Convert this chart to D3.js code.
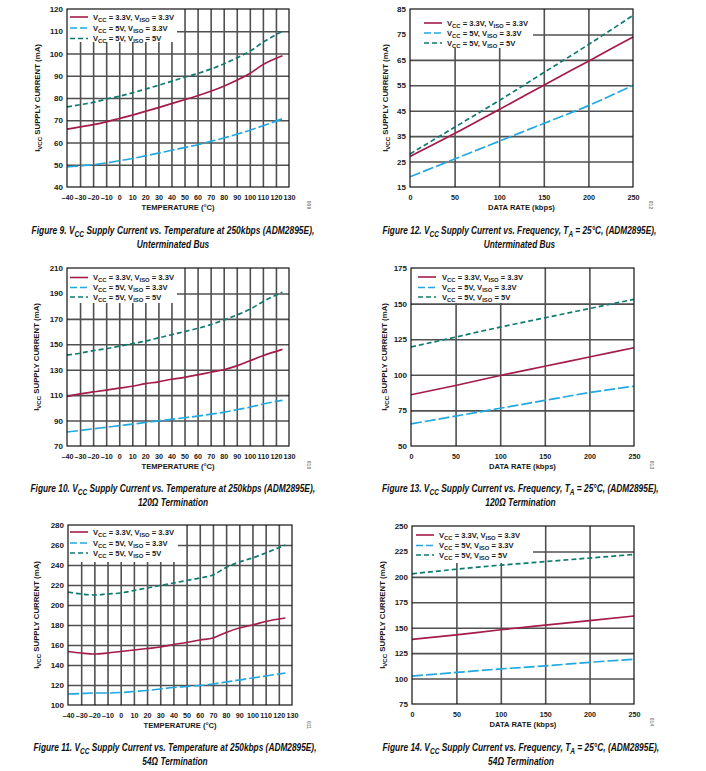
<!DOCTYPE html>
<html>
<head>
<meta charset="utf-8">
<script src="https://cdn.jsdelivr.net/npm/d3@7"></script>
<style>
  body { margin: 0; background: #fff; }
  text { font-family: "Liberation Sans", Arial, sans-serif; font-weight: bold; fill: #1a1a1a; }
</style>
</head>
<body>
<svg id="chart" width="706" height="771"></svg>
<script>
// x values
const tempX = [-40, -30, -20, -10, 0, 10, 20, 30, 40, 50, 60, 70, 80, 90, 100, 110, 125];
const rateX = [0, 50, 100, 150, 200, 250];
const tempTicks = [-40, -30, -20, -10, 0, 10, 20, 30, 40, 50, 60, 70, 80, 90, 100, 110, 120, 130];
const rateTicks = [0, 50, 100, 150, 200, 250];

// Figure 9 - temperature, unterminated
const fig9Vcc33Iso33 = [66, 67, 68, 69.3, 70.8, 72.3, 74, 75.7, 77.5, 79.2, 81, 83, 85.3, 88, 91, 95, 99];
const fig9Vcc5Iso33 = [49, 49.5, 50, 50.8, 51.8, 52.8, 54, 55.2, 56.5, 57.7, 59, 60.5, 62, 63.7, 65.5, 67.5, 70.7];
const fig9Vcc5Iso5 = [76, 77, 78, 79.5, 80.8, 82.3, 84, 85.7, 87.5, 89.3, 91, 93, 95.3, 98, 101, 105, 110];
const fig9YTicks = [40, 50, 60, 70, 80, 90, 100, 110, 120];

// Figure 12 - data rate, unterminated
const fig12Vcc33Iso33 = [27, 36, 45.5, 55, 64.5, 74];
const fig12Vcc5Iso33 = [19, 26, 33, 40, 47, 55];
const fig12Vcc5Iso5 = [28, 38.5, 49, 60, 71, 82.5];
const fig12YTicks = [15, 25, 35, 45, 55, 65, 75, 85];

// Figure 10 - temperature, 120 ohm
const fig10Vcc33Iso33 = [109, 111, 112.5, 114, 115.5, 117, 119, 120.5, 122.5, 124, 126, 128, 130, 133, 137, 141, 146];
const fig10Vcc5Iso33 = [81, 82.2, 83.5, 84.7, 86, 87.2, 88.5, 89.7, 91, 92.2, 93.5, 95, 96.5, 98.5, 100.5, 103, 106];
const fig10Vcc5Iso5 = [141.5, 143, 145, 146.5, 148.5, 150.5, 152.5, 155, 157.5, 160, 162.5, 165.5, 169, 173, 177.5, 183.5, 191];
const fig10YTicks = [70, 90, 110, 130, 150, 170, 190, 210];

// Figure 13 - data rate, 120 ohm
const fig13Vcc33Iso33 = [86, 92.5, 99.5, 106, 112.5, 119];
const fig13Vcc5Iso33 = [65.5, 71, 76.5, 82, 87.5, 92];
const fig13Vcc5Iso5 = [119.5, 126.5, 133.5, 140, 146.5, 153];
const fig13YTicks = [50, 75, 100, 125, 150, 175];

// Figure 11 - temperature, 54 ohm
const fig11Vcc33Iso33 = [153.5, 152, 151, 152, 153.5, 155, 156.5, 158, 160.5, 162.5, 165, 167, 172.5, 177, 180, 183.5, 187];
const fig11Vcc5Iso33 = [111, 111.5, 112, 112, 112.5, 113.5, 114.5, 116, 117.5, 118.5, 119.5, 121, 123, 125, 127, 129, 132];
const fig11Vcc5Iso5 = [213, 211, 210, 211, 212, 214.5, 217, 219.5, 222, 224.5, 227, 230, 237.5, 243, 247, 252, 260];
const fig11YTicks = [100, 120, 140, 160, 180, 200, 220, 240, 260, 280];

// Figure 14 - data rate, 54 ohm
const fig14Vcc33Iso33 = [138.5, 143, 148, 152.5, 157, 161.5];
const fig14Vcc5Iso33 = [102.5, 106, 109.5, 112.5, 116, 119];
const fig14Vcc5Iso5 = [203, 207.5, 211.5, 215, 218.5, 222];
const fig14YTicks = [75, 100, 125, 150, 175, 200, 225, 250];

const legendLabels = [
    [['V', 0], ['CC', 1], [' = 3.3V, V', 0], ['ISO', 1], [' = 3.3V', 0]],
    [['V', 0], ['CC', 1], [' = 5V, V', 0], ['ISO', 1], [' = 3.3V', 0]],
    [['V', 0], ['CC', 1], [' = 5V, V', 0], ['ISO', 1], [' = 5V', 0]]
];
const seriesStyle = [
    { color: '#a51b4b', dash: null, legendDash: null },
    { color: '#22a8e0', dash: '11,3', legendDash: '7,3' },
    { color: '#0f7b6f', dash: '5,3', legendDash: '5,3' }
];

const tempCaption = (n) => [['Figure ' + n + '. V', 0], ['CC', 1], [' Supply Current vs. Temperature at 250kbps (ADM2895E),', 0]];
const rateCaption = (n) => [['Figure ' + n + '. V', 0], ['CC', 1], [' Supply Current vs. Frequency, T', 0], ['A', 1], [' = 25°C, (ADM2895E),', 0]];

const panels = [
    { num: 9, id: '009', box: [67, 289, 9, 187], xDomain: [-40, 130], xVals: tempX, xTicks: tempTicks, yTicks: fig9YTicks,
      series: [fig9Vcc33Iso33, fig9Vcc5Iso33, fig9Vcc5Iso5], leg: [3, 26, 8, 19, 29.5, 110, 33], ylabDx: -27,
      xTitle: 'TEMPERATURE (°C)', cap: tempCaption(9), cap2: 'Unterminated Bus', capY: 234, capW: 283, idPos: [307, 205] },
    { num: 12, id: '012', box: [410, 633, 9, 187], xDomain: [0, 250], xVals: rateX, xTicks: rateTicks, yTicks: fig12YTicks,
      series: [fig12Vcc33Iso33, fig12Vcc5Iso33, fig12Vcc5Iso5], leg: [14, 37, 14, 24, 34, 123, 39], ylabDx: -22,
      xTitle: 'DATA RATE (kbps)', cap: rateCaption(12), cap2: 'Unterminated Bus', capY: 234, capW: 274, idPos: [649, 205] },
    { num: 10, id: '010', box: [67, 289, 268, 446], xDomain: [-40, 130], xVals: tempX, xTicks: tempTicks, yTicks: fig10YTicks,
      series: [fig10Vcc33Iso33, fig10Vcc5Iso33, fig10Vcc5Iso5], leg: [3, 26, 9.5, 19.5, 29, 110, 35], ylabDx: -28,
      xTitle: 'TEMPERATURE (°C)', cap: tempCaption(10), cap2: '120Ω Termination', capY: 492, capW: 285, idPos: [307, 465] },
    { num: 13, id: '013', box: [411, 634, 268, 446], xDomain: [0, 250], xVals: rateX, xTicks: rateTicks, yTicks: fig13YTicks,
      series: [fig13Vcc33Iso33, fig13Vcc5Iso33, fig13Vcc5Iso5], leg: [7, 31, 9, 19.5, 29, 113, 35], ylabDx: -24,
      xTitle: 'DATA RATE (kbps)', cap: rateCaption(13), cap2: '120Ω Termination', capY: 492, capW: 277, idPos: [650, 465] },
    { num: 11, id: '011', box: [68, 292, 525, 705], xDomain: [-40, 130], xVals: tempX, xTicks: tempTicks, yTicks: fig11YTicks,
      series: [fig11Vcc33Iso33, fig11Vcc5Iso33, fig11Vcc5Iso5], leg: [2, 25, 7, 18, 28, 110, 37], ylabDx: -29,
      xTitle: 'TEMPERATURE (°C)', cap: tempCaption(11), cap2: '54Ω Termination', capY: 751, capW: 283, idPos: [307, 725] },
    { num: 14, id: '014', box: [412, 634, 526, 704], xDomain: [0, 250], xVals: rateX, xTicks: rateTicks, yTicks: fig14YTicks,
      series: [fig14Vcc33Iso33, fig14Vcc5Iso33, fig14Vcc5Iso5], leg: [4, 27, 9, 19.5, 29, 121, 37], ylabDx: -27,
      xTitle: 'DATA RATE (kbps)', cap: rateCaption(14), cap2: '54Ω Termination', capY: 751, capW: 277, idPos: [650, 722] }
];

const svg = d3.select('#chart');

// appends text pieces with subscripts into a text selection
function rich(t, parts, fs) {
    let cur = 0;
    parts.forEach(function (p) {
        const shift = p[1] ? fs * 0.3 : 0;
        t.append('tspan')
            .attr('dy', shift - cur)
            .attr('font-size', p[1] ? fs * 0.78 : fs)
            .text(p[0]);
        cur = shift;
    });
}

function fmtTick(d) { return d < 0 ? '\u2013' + (-d) : String(d); }

panels.forEach(function (p) {
    const [left, right, top, bottom] = p.box;
    const w = right - left, h = bottom - top;
    const yDomain = [p.yTicks[0], p.yTicks[p.yTicks.length - 1]];
    const x = d3.scaleLinear().domain(p.xDomain).range([left, right]);
    const y = d3.scaleLinear().domain(yDomain).range([bottom, top]);

    // grid
    const inner = (arr) => arr.slice(1, arr.length - 1);
    svg.append('g')
        .attr('transform', 'translate(0,' + bottom + ')')
        .call(d3.axisBottom(x).tickValues(inner(p.xTicks)).tickSize(-h).tickFormat(''))
        .call(g => g.select('.domain').remove())
        .selectAll('line').attr('stroke', '#505050').attr('stroke-width', 1.6);
    svg.append('g')
        .attr('transform', 'translate(' + left + ',0)')
        .call(d3.axisLeft(y).tickValues(inner(p.yTicks)).tickSize(-w).tickFormat(''))
        .call(g => g.select('.domain').remove())
        .selectAll('line').attr('stroke', '#505050').attr('stroke-width', 1.6);

    // legend background
    svg.append('rect')
        .attr('x', left).attr('y', top)
        .attr('width', p.leg[5]).attr('height', p.leg[6])
        .attr('fill', '#fff');

    // curves
    const line = d3.line()
        .x(function (d, i) { return x(p.xVals[i]); })
        .y(function (d) { return y(d); })
        .curve(d3.curveMonotoneX);
    p.series.forEach(function (s, i) {
        svg.append('path')
            .datum(s)
            .attr('d', line)
            .attr('fill', 'none')
            .attr('stroke', seriesStyle[i].color)
            .attr('stroke-width', 1.7)
            .attr('stroke-dasharray', seriesStyle[i].dash);
    });

    // frame
    svg.append('rect')
        .attr('x', left).attr('y', top).attr('width', w).attr('height', h)
        .attr('fill', 'none').attr('stroke', '#111').attr('stroke-width', 1.2);

    // tick labels
    svg.append('g')
        .attr('transform', 'translate(0,' + bottom + ')')
        .call(d3.axisBottom(x).tickValues(p.xTicks).tickSize(0).tickPadding(7).tickFormat(fmtTick))
        .call(g => g.select('.domain').remove())
        .selectAll('text')
        .attr('font-size', 8).attr('font-family', null)
        .attr('transform', 'scale(0.9,1)')
        .attr('x', function (d) { return (x(d) - x(d)) ; });
    svg.append('g')
        .attr('transform', 'translate(' + left + ',0)')
        .call(d3.axisLeft(y).tickValues(p.yTicks).tickSize(0).tickPadding(4))
        .call(g => g.select('.domain').remove())
        .selectAll('text')
        .attr('font-size', 8).attr('font-family', null);

    // legend entries
    const rows = [p.leg[2], p.leg[3], p.leg[4]];
    legendLabels.forEach(function (lab, i) {
        const ly = top + rows[i];
        svg.append('line')
            .attr('x1', left + p.leg[0]).attr('x2', left + p.leg[0] + 18)
            .attr('y1', ly).attr('y2', ly)
            .attr('stroke', seriesStyle[i].color).attr('stroke-width', 1.6)
            .attr('stroke-dasharray', seriesStyle[i].legendDash);
        const t = svg.append('text').attr('x', left + p.leg[1]).attr('y', ly + 2.5);
        rich(t, lab, 7.6);
    });

    // axis titles
    svg.append('text')
        .attr('x', (left + right) / 2).attr('y', bottom + 23)
        .attr('text-anchor', 'middle').attr('font-size', 7.6)
        .text(p.xTitle);
    const yl = svg.append('text')
        .attr('transform', 'translate(' + (left + p.ylabDx) + ',' + ((top + bottom) / 2) + ') rotate(-90)')
        .attr('text-anchor', 'middle');
    rich(yl, [['I', 0], ['VCC', 1], [' SUPPLY CURRENT (mA)', 0]], 7.8);

    // figure id
    svg.append('text')
        .attr('transform', 'translate(' + p.idPos[0] + ',' + p.idPos[1] + ') rotate(90)')
        .attr('text-anchor', 'middle').attr('font-size', 5).attr('font-weight', 'normal')
        .style('fill', '#888')
        .text(p.id);

    // caption, squeezed to condensed width
    const cx = (left + right) / 2 - (p.num < 12 ? 5 : 2);
    const c1 = svg.append('text').attr('font-size', 11).attr('font-style', 'italic').style('fill', '#111');
    rich(c1, p.cap, 11);
    const cw = c1.node().getComputedTextLength();
    const k = p.capW / cw;
    c1.attr('transform', 'translate(' + (cx - p.capW / 2) + ',' + p.capY + ') scale(' + k + ',1)');
    svg.append('text').attr('font-size', 11).attr('font-style', 'italic').style('fill', '#111')
        .attr('text-anchor', 'middle')
        .attr('transform', 'translate(' + cx + ',' + (p.capY + 13.5) + ') scale(' + k + ',1)')
        .text(p.cap2);
});
</script>
</body>
</html>
